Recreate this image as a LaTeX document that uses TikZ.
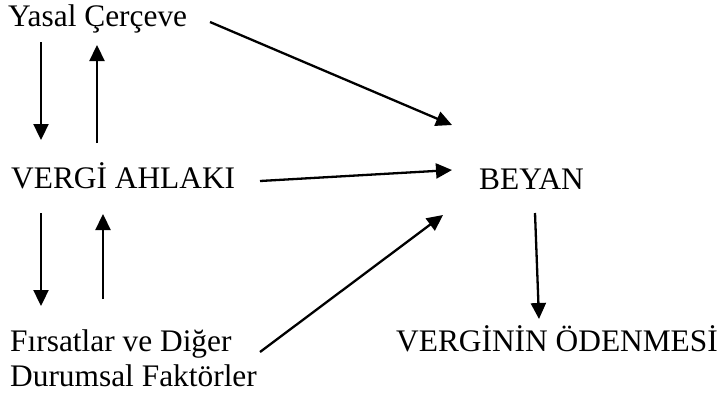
\documentclass[tikz,border=0pt]{standalone}
\usepackage{fontspec}
\setmainfont{Liberation Serif}
\usetikzlibrary{arrows.meta,calc}
\begin{document}
\begin{tikzpicture}[x=1bp,y=-1bp,
  lbl/.style={anchor=base west,inner sep=0pt,font=\fontsize{31.5}{35}\selectfont},
  arr/.style={line width=2.3bp,-{Triangle[length=16bp,width=15bp]}}]
\useasboundingbox (0,0) rectangle (722,401);
\node[lbl] (yasal) at (8,26) {Yasal Çerçeve};
\node[lbl] (vergi) at (11,188) {VERGİ AHLAKI};
\node[lbl] (beyan) at (479,189) {BEYAN};
\node[lbl,align=left] (firsat) at (10,386) {Fırsatlar ve Diğer\\Durumsal Faktörler};
\node[lbl] (odeme) at (396,351) {VERGİNİN ÖDENMESİ};
\draw[arr] ($(yasal.base west)+(202,-4)$) -- ($(beyan.base west)+(-27,-64)$);
\draw[arr] ($(vergi.base west)+(249,-7)$) -- ($(beyan.base west)+(-27,-19)$);
\draw[arr] ($(firsat.base west)+(250,-34)$) -- ($(beyan.base west)+(-36,26)$);
\draw[arr] ($(beyan.base west)+(56,24)$) -- ($(odeme.base west)+(143,-32)$);
\draw[arr] ($(yasal.base west)+(33,16)$) -- ($(vergi.base west)+(30,-48)$);
\draw[arr] ($(vergi.base west)+(86,-45)$) -- ($(yasal.base west)+(89,19)$);
\draw[arr] ($(vergi.base west)+(30,25)$) -- ($(firsat.base west)+(31,-80)$);
\draw[arr] ($(firsat.base west)+(93,-87)$) -- ($(vergi.base west)+(92,26)$);
\end{tikzpicture}
\end{document}
